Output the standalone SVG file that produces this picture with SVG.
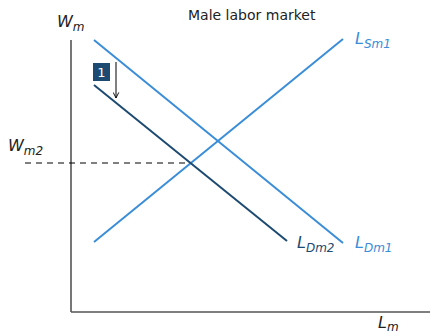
<svg xmlns="http://www.w3.org/2000/svg" width="430" height="335" viewBox="0 0 430 335">
<style>
text{font-family:"DejaVu Sans","Liberation Sans",sans-serif}
.lbl{font-style:italic;font-size:16px}
.sub{font-size:12px}
.lb{stroke:#3a8dd8;stroke-width:2;fill:none}
.db{stroke:#1d4a70;stroke-width:2;fill:none}
</style>
<defs>
<marker id="ah" viewBox="0 0 10 10" refX="9" refY="5" markerWidth="7" markerHeight="7" orient="auto">
<path d="M1,1 L9,5 L1,9" fill="none" stroke="#000" stroke-width="1.3"/>
</marker>
</defs>
<g id="axes">
<line x1="71" y1="40" x2="71" y2="312" stroke="#555" stroke-width="1.6"/>
<line x1="71" y1="312" x2="430" y2="312" stroke="#555" stroke-width="1.6"/>
</g>
<g id="connectors">
<line id="dash" x1="25" y1="163" x2="192" y2="163" stroke="#000" stroke-width="1" stroke-dasharray="6,5"/>
<line id="LSm1" class="lb" x1="94" y1="242" x2="343" y2="39"/>
<line id="LDm1" class="lb" x1="94" y1="40" x2="343" y2="243"/>
<line id="LDm2" class="db" x1="94" y1="85" x2="287" y2="241"/>
<line id="shift" x1="116" y1="62" x2="116" y2="98" stroke="#000" stroke-width="1" marker-end="url(#ah)"/>
</g>
<g id="badge">
<rect x="93" y="63" width="17" height="18" fill="#1d4a70"/>
<text x="101.5" y="77" font-size="13" fill="#fff" text-anchor="middle">1</text>
</g>
<g id="labels">
<text x="188" y="20" font-size="14" fill="#222">Male labor market</text>
<text class="lbl" x="57" y="27" fill="#222">W<tspan class="sub" dy="4">m</tspan></text>
<text class="lbl" x="8" y="151" fill="#222">W<tspan class="sub" dy="4">m2</tspan></text>
<text class="lbl" x="355" y="44" fill="#3a8dd8">L<tspan class="sub" dy="4">Sm1</tspan></text>
<text class="lbl" x="297" y="248" fill="#1d4a70">L<tspan class="sub" dy="4">Dm2</tspan></text>
<text class="lbl" x="355" y="248" fill="#3a8dd8">L<tspan class="sub" dy="4">Dm1</tspan></text>
<text class="lbl" x="378" y="328" fill="#222">L<tspan class="sub" dy="3">m</tspan></text>
</g>
</svg>
